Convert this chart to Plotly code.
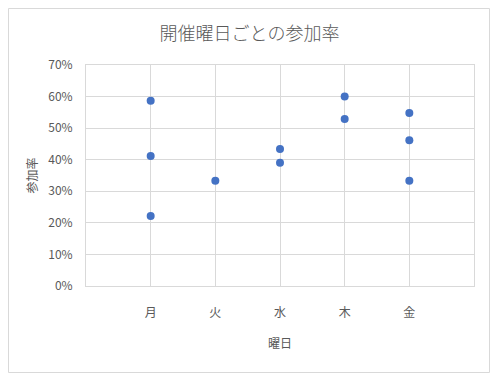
import plotly.graph_objects as go

days = ["月", "火", "水", "木", "金"]
day_pos = [1, 2, 3, 4, 5]
x_vals = [1, 1, 1, 2, 3, 3, 4, 4, 5, 5, 5]
rates = [0.587, 0.412, 0.222, 0.333, 0.434, 0.390, 0.600, 0.529, 0.548, 0.462, 0.333]
y_ticks = [0, 0.1, 0.2, 0.3, 0.4, 0.5, 0.6, 0.7]

FONT = "Noto Sans CJK JP"
GRAY = "#595959"
GRID = "#d9d9d9"

fig = go.Figure()
fig.add_trace(go.Scatter(
    x=x_vals, y=rates, mode="markers",
    marker=dict(color="#4472C4", size=8, line=dict(width=0)),
    showlegend=False, hoverinfo="skip"))

W, H = 499, 382
L, R, T, B = 86, 25, 65, 96
pw, ph = W - L - R, H - T - B

fig.update_layout(
    width=W, height=H,
    margin=dict(l=L, r=R, t=T, b=B, autoexpand=False),
    paper_bgcolor="white", plot_bgcolor="white",
    font=dict(family=FONT, color=GRAY, size=11),
    title=dict(text="開催曜日ごとの参加率", x=0.5, xanchor="center",
               y=1 - 34 / H, yanchor="middle",
               font=dict(size=18, color=GRAY, family=FONT, weight=300)),
    xaxis=dict(range=[0, 6], tickvals=[0] + day_pos + [6],
               ticktext=[""] + days + [""], automargin=False,
               showgrid=True, gridcolor=GRID, gridwidth=1,
               zeroline=False, showline=True, linecolor=GRID, mirror=True,
               ticks="outside", ticklen=16, tickcolor="rgba(0,0,0,0)",
               tickfont=dict(size=12, color=GRAY),
               title=dict(text="曜日", standoff=20, font=dict(size=12, color=GRAY))),
    yaxis=dict(range=[0, 0.7], tickvals=y_ticks, tickformat=".0%",
               automargin=False,
               showgrid=True, gridcolor=GRID, gridwidth=1,
               zeroline=False, showline=True, linecolor=GRID, mirror=True,
               ticks="outside", ticklen=10, tickcolor="rgba(0,0,0,0)",
               tickfont=dict(size=12, color=GRAY),
               title=dict(text="参加率", standoff=8, font=dict(size=12, color=GRAY))),
)

fig.add_shape(type="rect", xref="paper", yref="paper",
              x0=(8.5 - L) / pw, x1=(489.5 - L) / pw,
              y0=(T + ph - 372.5) / ph, y1=(T + ph - 8.5) / ph,
              line=dict(color=GRID, width=1), fillcolor="rgba(0,0,0,0)", layer="below")

fig.write_html("out.html", config={"displayModeBar": False},
               post_script="document.body.style.margin='0';document.body.style.overflow='hidden';")
